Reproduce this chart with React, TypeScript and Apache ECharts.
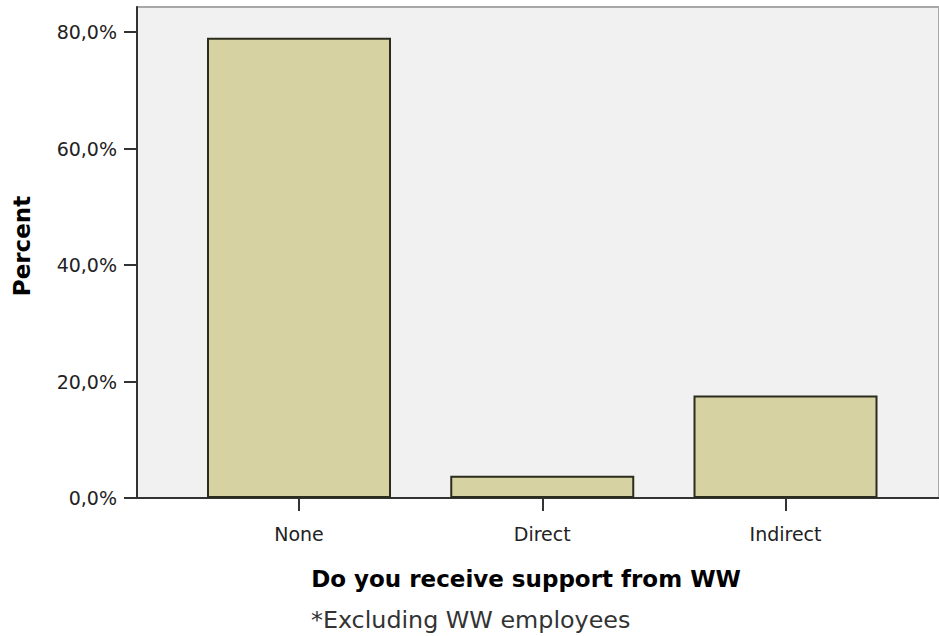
import React, { useEffect, useRef } from "react";
import * as echarts from "echarts";

const categories = ["None", "Direct", "Indirect"];
const percentValues = [79.0, 3.8, 17.6];
const yTicks = [0, 20, 40, 60, 80];
const xTitle = "Do you receive support from WW";
const yTitle = "Percent";
const footnote = "*Excluding WW employees";

const FONT = "DejaVu Sans, Verdana, sans-serif";

export default function App() {
  const ref = useRef<HTMLDivElement>(null);
  useEffect(() => {
    if (!ref.current) return;
    const chart = echarts.init(ref.current, null, { renderer: "svg" });
    const catIdx = categories.map((_, i) => i);
    chart.setOption({
      animation: false,
      backgroundColor: "#ffffff",
      textStyle: { fontFamily: FONT },
      grid: {
        left: 137,
        top: 7,
        right: -4,
        bottom: 138,
        show: true,
        backgroundColor: "#f1f1f1",
        borderColor: "#a8a8a8",
        borderWidth: 2,
      },
      xAxis: {
        type: "value",
        min: -0.666,
        max: 2.631,
        splitLine: { show: false },
        axisLine: { show: true, onZero: false, lineStyle: { color: "#333333", width: 2 } },
        axisTick: {
          show: true,
          customValues: catIdx,
          length: 13,
          lineStyle: { color: "#333333", width: 2 },
        },
        axisLabel: {
          customValues: catIdx,
          formatter: (v: number) => categories[Math.round(v)] ?? "",
          color: "#222222",
          fontSize: 19,
          fontFamily: FONT,
          margin: 26,
        },
      },
      yAxis: {
        type: "value",
        min: 0,
        max: 84.3,
        splitLine: { show: false },
        axisLine: { show: true, onZero: false, lineStyle: { color: "#333333", width: 2 } },
        axisTick: {
          show: true,
          customValues: yTicks,
          length: 13,
          lineStyle: { color: "#333333", width: 2 },
        },
        axisLabel: {
          customValues: yTicks,
          formatter: (v: number) => v.toFixed(1).replace(".", ",") + "%",
          color: "#222222",
          fontSize: 19,
          fontFamily: FONT,
          margin: 20,
        },
      },
      series: [
        {
          type: "bar",
          data: catIdx.map((i) => [i, percentValues[i]]),
          barWidth: 184,
          itemStyle: {
            color: "#d6d2a2",
            borderColor: "#2b2b1e",
            borderWidth: 2,
          },
        },
      ],
      graphic: [
        {
          type: "text",
          x: 526,
          y: 579,
          style: {
            text: xTitle,
            fontSize: 23,
            fontWeight: "bold",
            fill: "#000000",
            align: "center",
            verticalAlign: "middle",
            fontFamily: FONT,
          },
        },
        {
          type: "text",
          x: 311,
          y: 620,
          style: {
            text: footnote,
            fontSize: 23.8,
            fill: "#333333",
            align: "left",
            verticalAlign: "middle",
            fontFamily: FONT,
          },
        },
        {
          type: "text",
          x: 22,
          y: 246,
          rotation: Math.PI / 2,
          style: {
            text: yTitle,
            fontSize: 23,
            fontWeight: "bold",
            fill: "#000000",
            align: "center",
            verticalAlign: "middle",
            fontFamily: FONT,
          },
        },
      ],
    });
    return () => chart.dispose();
  }, []);
  return <div ref={ref} style={{ width: 939, height: 636, position: "absolute", left: 0, top: 0 }} />;
}
